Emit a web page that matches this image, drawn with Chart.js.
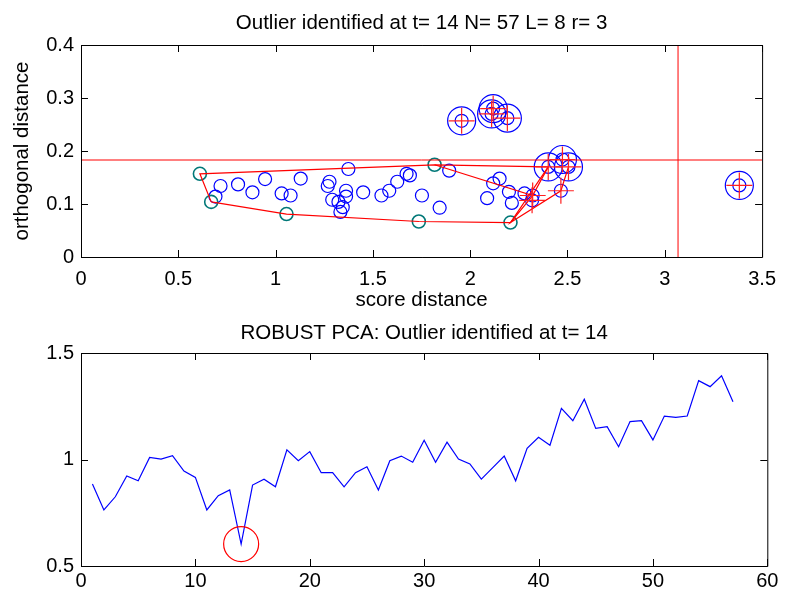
<!DOCTYPE html>
<html>
<head>
<meta charset="utf-8">
<script src="https://cdn.jsdelivr.net/npm/chart.js@4"></script>
<style>
  body { margin: 0; background: #fff; }
  canvas { position: absolute; left: 0; }
  #topChart { top: 0; }
  #bottomChart { top: 318px; }
</style>
</head>
<body>
<canvas id="topChart" width="786" height="318"></canvas>
<canvas id="bottomChart" width="786" height="272"></canvas>
<script>
// --- top plot: score distance vs orthogonal distance ---
// regular observations
const scoreDist = [0.717, 0.691, 0.807, 0.881, 0.946, 1.031, 1.077, 1.129, 1.277, 1.268, 1.374, 1.362, 1.362, 1.291, 1.323, 1.333,
  1.345, 1.450, 1.544, 1.584, 1.625, 1.673, 1.690, 1.892, 1.752, 1.843, 2.118, 2.151, 2.087, 2.199, 2.214, 2.279];
const orthDist = [0.134, 0.114, 0.137, 0.122, 0.147, 0.120, 0.116, 0.148, 0.142, 0.134, 0.166, 0.125, 0.114, 0.108, 0.104, 0.085,
  0.094, 0.122, 0.116, 0.125, 0.142, 0.157, 0.154, 0.163, 0.116, 0.093, 0.139, 0.148, 0.111, 0.123, 0.102, 0.120];
// hull vertices (A B C D E F)
const hullScore = [0.611, 0.669, 1.056, 1.736, 2.207, 1.817];
const hullOrth = [0.157, 0.104, 0.081, 0.067, 0.065, 0.174];
// flagged points (cross only)
const flagScore = [2.321, 2.318, 2.466];
const flagOrth = [0.116, 0.107, 0.125];
// outliers (big circle + cross)
const outScore = [2.401, 2.474, 2.505, 1.956, 2.118, 2.110, 2.191, 3.383];
const outOrth = [0.170, 0.184, 0.170, 0.257, 0.280, 0.270, 0.262, 0.135];
// cutoffs
const cutOrth = 0.183;
const cutScore = 3.068;
// red polygon pieces
const pathAScore = [0.669, 0.611, 1.817, 2.401, 2.207, 1.736, 1.056, 0.669];
const pathAOrth = [0.104, 0.157, 0.174, 0.170, 0.065, 0.067, 0.081, 0.104];
const pathBScore = [1.817, 2.321, 2.401];
const pathBOrth = [0.174, 0.116, 0.170];
const pathCScore = [2.321, 2.207, 2.466, 2.505];
const pathCOrth = [0.116, 0.065, 0.125, 0.170];

// --- bottom plot: robust PCA statistic per time ---
const tValues = [1, 2, 3, 4, 5, 6, 7, 8, 9, 10, 11, 12, 13, 14, 15, 16, 17, 18, 19, 20, 21, 22, 23, 24, 25, 26, 27, 28, 29, 30,
  31, 32, 33, 34, 35, 36, 37, 38, 39, 40, 41, 42, 43, 44, 45, 46, 47, 48, 49, 50, 51, 52, 53, 54, 55, 56, 57];
const pcaValues = [0.885, 0.763, 0.825, 0.923, 0.900, 1.010, 1.002, 1.018, 0.946, 0.916,
  0.763, 0.830, 0.857, 0.603, 0.880, 0.907, 0.872, 1.045, 0.994, 1.037,
  0.938, 0.938, 0.872, 0.938, 0.966, 0.857, 0.994, 1.016, 0.987, 1.090,
  0.987, 1.081, 1.002, 0.979, 0.908, 0.962, 1.016, 0.900, 1.052, 1.104,
  1.067, 1.240, 1.182, 1.283, 1.146, 1.154, 1.060, 1.178, 1.182, 1.092,
  1.204, 1.198, 1.204, 1.370, 1.342, 1.393, 1.271];
const outlierT = 14;

const FONT = "'Liberation Sans', Arial, sans-serif";
const pts = (xs, ys) => xs.map((x, i) => ({x: x, y: ys[i]}));

// box with inward ticks like matlab
const boxPlugin = {
  id: 'box',
  afterDatasetsDraw(chart) {
    const {ctx, chartArea: a, scales} = chart;
    const L = 7;
    ctx.save();
    ctx.strokeStyle = '#000';
    ctx.lineWidth = 1;
    ctx.beginPath();
    ctx.rect(a.left + 0.5, a.top + 0.5, a.right - a.left, a.bottom - a.top);
    scales.x.ticks.forEach(t => {
      const px = Math.round(scales.x.getPixelForValue(t.value)) + 0.5;
      ctx.moveTo(px, a.bottom); ctx.lineTo(px, a.bottom - L);
      ctx.moveTo(px, a.top); ctx.lineTo(px, a.top + L);
    });
    scales.y.ticks.forEach(t => {
      const py = Math.round(scales.y.getPixelForValue(t.value)) + 0.5;
      ctx.moveTo(a.left, py); ctx.lineTo(a.left + L, py);
      ctx.moveTo(a.right, py); ctx.lineTo(a.right - L, py);
    });
    ctx.stroke();
    ctx.restore();
  }
};

function axis(min, max, step, pad, fitSize, title, titlePad) {
  return {
    type: 'linear', min: min, max: max,
    grid: {display: false, drawTicks: false},
    border: {display: false},
    ticks: {stepSize: step, padding: pad, color: '#000', font: {family: FONT, size: 20},
      callback: v => String(Math.round(v * 100) / 100)},
    title: title ? {display: true, text: title, color: '#000', font: {family: FONT, size: 20.5}, padding: titlePad} : {display: false},
    afterFit: fitSize
  };
}

// top chart
const lineDs = (xs, ys) => ({data: pts(xs, ys), showLine: true, borderColor: '#ff0000', borderWidth: 1.2, pointRadius: 0, order: 1});
new Chart(document.getElementById('topChart'), {
  type: 'scatter',
  data: {
    datasets: [
      lineDs(pathAScore, pathAOrth),
      lineDs(pathBScore, pathBOrth),
      lineDs(pathCScore, pathCOrth),
      {data: [{x: 0, y: cutOrth}, {x: 3.5, y: cutOrth}], showLine: true, borderColor: '#ff0000', borderWidth: 1, pointRadius: 0, order: 1},
      {data: [{x: cutScore, y: 0}, {x: cutScore, y: 0.4}], showLine: true, borderColor: '#ff0000', borderWidth: 1, pointRadius: 0, order: 1},
      {data: pts(flagScore.concat(outScore), flagOrth.concat(outOrth)), pointStyle: 'cross', pointRadius: 13,
        borderColor: '#ff2020', borderWidth: 1.2, order: 0},
      {data: pts(outScore, outOrth), pointStyle: 'circle', pointRadius: 14, borderColor: '#0000ff', borderWidth: 1.2,
        backgroundColor: 'rgba(0,0,0,0)', order: 2},
      {data: pts(scoreDist.concat(flagScore, outScore), orthDist.concat(flagOrth, outOrth)), pointStyle: 'circle', pointRadius: 6.5,
        borderColor: '#0000ff', borderWidth: 1.2, backgroundColor: 'rgba(0,0,0,0)', order: 3},
      {data: pts(hullScore, hullOrth), pointStyle: 'circle', pointRadius: 6.5, borderColor: '#007878', borderWidth: 1.6,
        backgroundColor: 'rgba(0,0,0,0)', order: 2}
    ]
  },
  options: {
    responsive: false,
    animation: false,
    events: [],
    layout: {padding: {left: 0, right: 17, top: 0, bottom: 0}},
    plugins: {
      legend: {display: false},
      tooltip: {enabled: false},
      title: {display: true, fullSize: false, text: 'Outlier identified at t= 14 N= 57 L= 8 r= 3', color: '#000',
        font: {family: FONT, size: 20.5, weight: 'normal'}, padding: {top: 11, bottom: 9.4}}
    },
    scales: {
      x: axis(0, 3.5, 0.5, 10, s => { s.height = 61; }, 'score distance', {top: 0, bottom: 5.7}),
      y: axis(0, 0.4, 0.1, 7, s => { s.width = 81; }, 'orthogonal distance', {top: 9.7, bottom: 0})
    }
  },
  plugins: [boxPlugin]
});

// bottom chart
new Chart(document.getElementById('bottomChart'), {
  type: 'scatter',
  data: {
    datasets: [
      {data: [{x: outlierT, y: pcaValues[outlierT - 1]}], pointStyle: 'circle', pointRadius: 17.5, borderColor: '#ff0000',
        borderWidth: 1.2, backgroundColor: 'rgba(0,0,0,0)', order: 0},
      {data: pts(tValues, pcaValues), showLine: true, borderColor: '#0000ff', borderWidth: 1.2, pointRadius: 0, tension: 0, order: 1}
    ]
  },
  options: {
    responsive: false,
    animation: false,
    events: [],
    layout: {padding: {left: 0, right: 17, top: 0, bottom: 0}},
    plugins: {
      legend: {display: false},
      tooltip: {enabled: false},
      title: {display: true, fullSize: false, text: 'ROBUST PCA: Outlier identified at t= 14', color: '#000',
        font: {family: FONT, size: 20.5, weight: 'normal'}, padding: {top: 2.7, bottom: 7.7}}
    },
    scales: {
      x: axis(0, 60, 10, 3, s => { s.height = 24; }, null),
      y: axis(0.5, 1.5, 0.5, 7, s => { s.width = 81; }, null)
    }
  },
  plugins: [boxPlugin]
});
</script>
</body>
</html>
